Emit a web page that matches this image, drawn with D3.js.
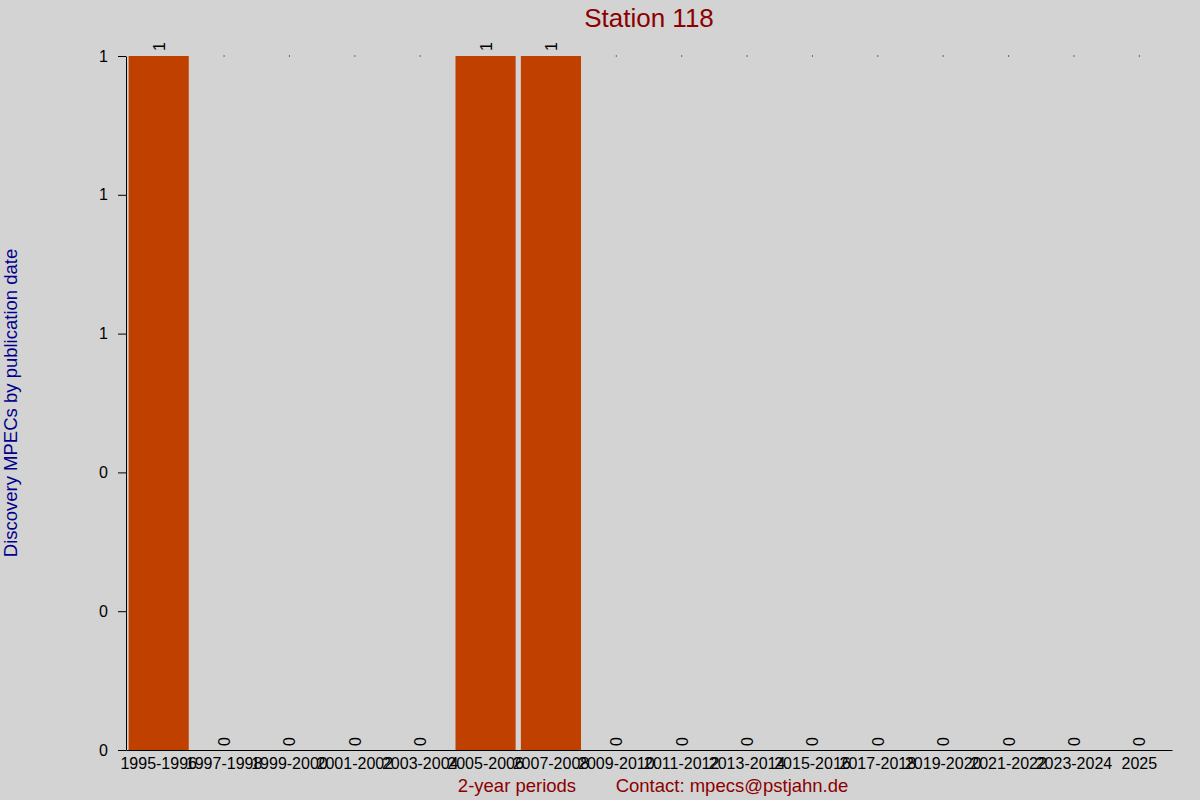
<!DOCTYPE html>
<html>
<head>
<meta charset="utf-8">
<script src="https://cdn.jsdelivr.net/npm/d3@7"></script>
<style>
  body { margin: 0; background: #d3d3d3; }
  svg { display: block; font-family: "Liberation Sans", Arial, sans-serif; }
</style>
</head>
<body>
<div id="chart"></div>
<script>
const periods = ["1995-1996", "1997-1998", "1999-2000", "2001-2002", "2003-2004",
  "2005-2006", "2007-2008", "2009-2010", "2011-2012", "2013-2014", "2015-2016",
  "2017-2018", "2019-2020", "2021-2022", "2023-2024", "2025"];
const counts = [1, 0, 0, 0, 0, 1, 1, 0, 0, 0, 0, 0, 0, 0, 0, 0];
const yTicks = [0, 0.2, 0.4, 0.6, 0.8, 1];

const width = 1200, height = 800;
const margin = { top: 56, right: 28, bottom: 50, left: 126 };

const svg = d3.select("#chart")
  .append("svg")
  .attr("width", width)
  .attr("height", height);

svg.append("rect")
  .attr("width", width)
  .attr("height", height)
  .attr("fill", "#d3d3d3");

const x = d3.scaleBand()
  .domain(periods)
  .range([margin.left, width - margin.right])
  .paddingInner(0.08)
  .paddingOuter(0.04);

const y = d3.scaleLinear()
  .domain([0, 1])
  .range([height - margin.bottom, margin.top]);

// bars
svg.append("g")
  .selectAll("rect")
  .data(periods)
  .join("rect")
  .attr("x", d => x(d))
  .attr("y", (d, i) => y(counts[i]))
  .attr("width", x.bandwidth())
  .attr("height", (d, i) => y(0) - y(counts[i]))
  .attr("fill", "#c04000");

// tiny marks at top of empty periods
svg.append("g")
  .selectAll("rect")
  .data(periods.filter((d, i) => counts[i] === 0))
  .join("rect")
  .attr("x", d => x(d) + x.bandwidth() / 2 - 0.5)
  .attr("y", y(1) - 0.5)
  .attr("width", 1)
  .attr("height", 1)
  .attr("fill", "#000");

// value labels, rotated
svg.append("g")
  .selectAll("text")
  .data(periods)
  .join("text")
  .attr("transform", (d, i) => {
    const cx = x(d) + x.bandwidth() / 2 + 6;
    const cy = counts[i] > 0 ? y(counts[i]) - 5 : y(0) - 4;
    return `translate(${cx},${cy}) rotate(-90)`;
  })
  .attr("font-size", 16)
  .attr("fill", "#000")
  .text((d, i) => counts[i]);

// x axis
const xAxis = svg.append("g")
  .attr("transform", `translate(0,${y(0)})`)
  .call(d3.axisBottom(x).tickSize(0).tickPadding(8));
xAxis.select(".domain").attr("stroke", "#000");
xAxis.selectAll("text").attr("font-size", 16).attr("fill", "#000");

// y axis
const yAxis = svg.append("g")
  .attr("transform", `translate(${margin.left},0)`)
  .call(d3.axisLeft(y).tickValues(yTicks).tickFormat(d3.format(".0f")).tickSize(8).tickSizeOuter(0).tickPadding(10));
yAxis.select(".domain").attr("stroke", "#000");
yAxis.selectAll("text").attr("font-size", 16).attr("fill", "#000");

// title
svg.append("text")
  .attr("x", 649)
  .attr("y", 27)
  .attr("text-anchor", "middle")
  .attr("font-size", 26)
  .attr("fill", "#8b0000")
  .text("Station 118");

// y label
svg.append("text")
  .attr("transform", `translate(17,${(margin.top + height - margin.bottom) / 2}) rotate(-90)`)
  .attr("text-anchor", "middle")
  .attr("font-size", 18.5)
  .attr("fill", "#00008b")
  .text("Discovery MPECs by publication date");

// x label and contact
svg.append("text")
  .attr("x", 517)
  .attr("y", 792)
  .attr("text-anchor", "middle")
  .attr("font-size", 18.5)
  .attr("fill", "#8b0000")
  .text("2-year periods");

svg.append("text")
  .attr("x", 732)
  .attr("y", 792)
  .attr("text-anchor", "middle")
  .attr("font-size", 18.5)
  .attr("fill", "#8b0000")
  .text("Contact: mpecs@pstjahn.de");
</script>
</body>
</html>
